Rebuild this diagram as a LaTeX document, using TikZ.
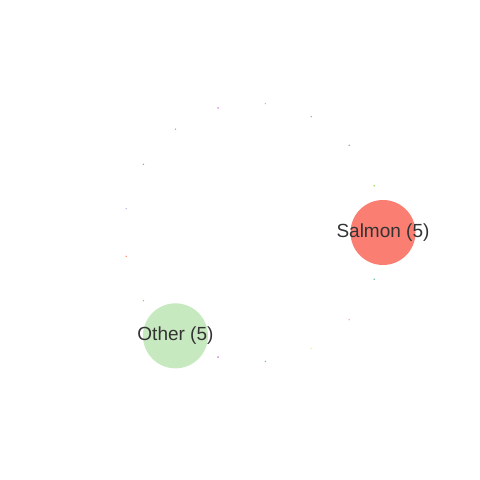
\documentclass[tikz,border=0pt]{standalone}
\usepackage{fontspec}
\setmainfont{Liberation Sans}
\usetikzlibrary{positioning, calc}
\definecolor{mysalmon}{HTML}{FA7F72}
\definecolor{mygreen}{HTML}{C7E9C0}
\definecolor{labelgray}{HTML}{333333}
\tikzset{
	bignode/.style={circle, minimum size=65pt, inner sep=0pt, fill=#1}
}
\tikzset{
	tinydot/.style={circle, minimum size=1.6pt, inner sep=0pt, fill=#1}
}
\tikzset{
	ringtext/.style={font=\fontsize{19}{22}\selectfont\color{labelgray}}
}

\begin{document}
\begin{tikzpicture}[x=1pt, y=1pt]

			\useasboundingbox (0,0) rectangle (480,480);
			\coordinate (ctr) at (253.5,247.5);

			\begin{scope}
				% small members around the ring
				\foreach \k/\col in {1/A6D854, 2/8DA0CB, 3/66C2A5, 4/BEBADA,
						5/C75DC7, 6/66C2A5, 7/66C2A5, 8/BEBADA,
						9/FC8D62, 10/FDA040, 12/A24EB0, 13/66C2A5,
						14/FFF04A, 15/F7A8C4, 16/66C2A5} {
						\definecolor{dotcol}{HTML}{\col}
						\node[tinydot=dotcol] (d\k) at ($(ctr)+({\k*360/17}:129.5)$) {};
					}
			\end{scope}

			\begin{scope}
				\node[bignode=mysalmon] (salmon) at ($(ctr)+(0:129.5)$) {};
				\node[bignode=mygreen] (other) at ($(ctr)+({11*360/17}:129.5)$) {};

				\node[ringtext] (lsalmon) at (salmon) {Salmon (5)};
				\node[ringtext] (lother) at (other) {Other (5)};
			\end{scope}

		\end{tikzpicture}
\end{document}
